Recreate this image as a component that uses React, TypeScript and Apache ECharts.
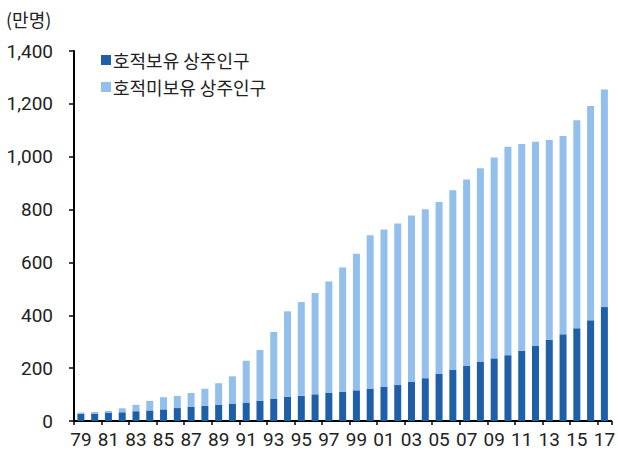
import React, { useEffect, useRef } from "react";
import * as echarts from "echarts";

const years = [
  "79","80","81","82","83","84","85","86","87","88","89","90","91","92","93","94","95","96","97","98",
  "99","00","01","02","03","04","05","06","07","08","09","10","11","12","13","14","15","16","17",
];
// 호적보유 상주인구 (만명)
const registered = [
  27, 28, 32, 33, 37, 40, 44, 49, 53, 57, 62, 66, 70, 77, 85, 91, 95, 101, 106, 111,
  116, 121, 129, 136, 148, 162, 178, 193, 208, 225, 237, 249, 266, 284, 308, 328, 351, 381, 431,
];
// 상주인구 합계 (만명)
const totals = [
  32, 34, 38, 48, 61, 76, 90, 95, 106, 122, 143, 169, 228, 269, 337, 415, 450, 484, 528, 581,
  633, 703, 725, 747, 778, 801, 829, 873, 914, 956, 997, 1038, 1048, 1057, 1063, 1078, 1138, 1192, 1254,
];
// 호적미보유 상주인구 = 합계 - 호적보유
const nonRegistered = totals.map((t, i) => t - registered[i]);

const seriesNames = ["호적보유 상주인구", "호적미보유 상주인구"];
const unitLabel = "(만명)";

export default function App() {
  const ref = useRef<HTMLDivElement>(null);
  useEffect(() => {
    if (!ref.current) return;
    const chart = echarts.init(ref.current, null, { renderer: "svg" });
    const font = "Roboto, 'Noto Sans CJK KR', sans-serif";
    const kfont = "'Noto Sans CJK KR', sans-serif";
    chart.setOption({
      animation: false,
      textStyle: { fontFamily: font },
      grid: { left: 74, right: 2, top: 51, bottom: 35, containLabel: false },
      graphic: [
        {
          type: "text",
          left: 6,
          top: 10,
          style: { text: unitLabel, fontSize: 18, fill: "#222", fontFamily: kfont },
        },
      ],
      legend: {
        orient: "vertical",
        left: 96,
        top: 46,
        itemWidth: 10,
        itemHeight: 10,
        itemGap: 9,
        icon: "rect",
        textStyle: { fontSize: 18, color: "#222", fontFamily: kfont, padding: [0, 0, 0, -3] },
        data: seriesNames,
      },
      xAxis: {
        type: "category",
        data: years,
        axisLine: { lineStyle: { color: "#000", width: 2 } },
        axisTick: { show: true, interval: 1, length: 4, lineStyle: { color: "#000", width: 1.5 } },
        axisLabel: { interval: 1, fontSize: 19, color: "#222", margin: 9, fontFamily: font },
      },
      yAxis: {
        type: "value",
        min: 0,
        max: 1400,
        interval: 200,
        splitLine: { show: false },
        axisLine: { show: true, lineStyle: { color: "#000", width: 2 } },
        axisTick: { show: true, length: 5, lineStyle: { color: "#000", width: 1.5 } },
        axisLabel: {
          fontSize: 19,
          color: "#222",
          margin: 21,
          fontFamily: font,
          formatter: (v: number) => v.toLocaleString("en-US"),
        },
      },
      series: [
        {
          name: seriesNames[0],
          type: "bar",
          stack: "total",
          data: registered,
          barWidth: 7,
          itemStyle: { color: "#1F5FA8" },
        },
        {
          name: seriesNames[1],
          type: "bar",
          stack: "total",
          data: nonRegistered,
          barWidth: 7,
          itemStyle: { color: "#92BFEC" },
        },
      ],
    });
    return () => chart.dispose();
  }, []);
  return <div ref={ref} style={{ width: 618, height: 456, position: "absolute", left: 0, top: 0 }} />;
}
